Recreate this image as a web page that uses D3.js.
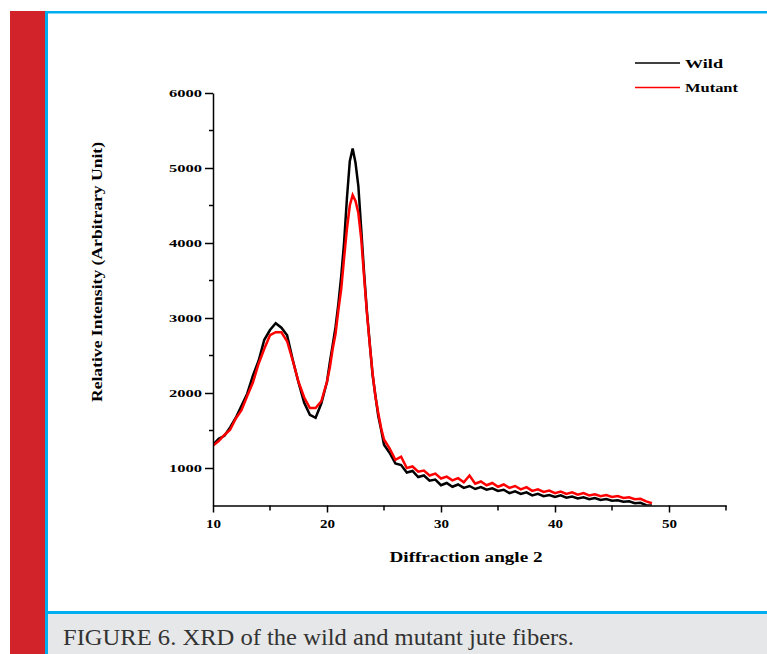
<!DOCTYPE html>
<head>
  <meta charset="UTF-8">
  <title>xrd</title>
  <style>
  body, html, svg{
    padding: 0;
    margin: 0;
  }
  body{
    background: #fff;
  }
  svg{
    display: block;
  }
  </style>
</head>
<body>
  <script src="https://cdnjs.cloudflare.com/ajax/libs/d3/7.8.5/d3.min.js"></script>
  <script type="text/javascript">
  // diffraction angle (2 theta)
  var angle = [
    10,10.5,11,11.5,12,12.5,13,13.5,14,14.5,15,15.5,16,16.5,17,17.5,18,18.5,19,19.5,20,
    20.25,20.5,20.75,21,21.25,21.5,21.75,22,22.25,22.5,22.75,23,23.25,23.5,23.75,24,24.25,24.5,24.75,25,
    25.5,26,26.5,27,27.5,28,28.5,29,29.5,30,30.5,31,31.5,32,32.5,33,33.5,34,34.5,35,
    35.5,36,36.5,37,37.5,38,38.5,39,39.5,40,40.5,41,41.5,42,42.5,43,43.5,44,44.5,45,
    45.5,46,46.5,47,47.5,48,48.5
  ];
  var wild = [
    1310,1390,1430,1540,1670,1830,1990,2230,2430,2710,2840,2930,2870,2770,2440,2140,1870,1710,1670,1860,2150,
    2410,2640,2880,3190,3560,4010,4600,5090,5260,5070,4760,4190,3610,3090,2660,2240,1960,1690,1510,1310,
    1200,1060,1040,940,960,880,900,830,845,770,800,750,780,735,760,720,745,710,730,695,
    710,665,690,655,675,635,655,625,640,615,635,605,620,595,610,585,600,575,585,565,
    570,550,555,530,535,505,500
  ];
  var mutant = [
    1300,1360,1440,1510,1660,1770,1960,2140,2390,2590,2770,2810,2810,2690,2430,2150,1940,1800,1800,1890,2150,
    2340,2590,2790,3110,3390,3800,4190,4500,4640,4560,4400,4060,3560,3070,2650,2260,1950,1730,1530,1380,
    1260,1110,1150,1000,1020,950,965,900,925,860,885,835,865,810,900,790,820,770,800,750,
    780,735,760,715,745,695,715,680,700,665,685,655,675,645,665,635,650,625,640,615,
    625,600,610,585,590,555,530
  ];
  var xTicks = [10, 20, 30, 40, 50];
  var xMinor = [15, 25, 35, 45, 55];
  var yTicks = [1000, 2000, 3000, 4000, 5000, 6000];
  var yMinor = [1500, 2500, 3500, 4500, 5500];
  var seriesNames = ['Wild', 'Mutant'];
  var seriesColors = ['#000', '#ff0000'];

  var width = 767, height = 654;
  var svg = d3.select('body').append('svg')
    .attr('width', width)
    .attr('height', height);

  // page frame
  svg.append('rect').attr('x', 10).attr('y', 11).attr('width', 35).attr('height', 643).attr('fill', '#d2232a');
  svg.append('rect').attr('x', 48).attr('y', 614).attr('width', 719).attr('height', 40).attr('fill', '#e6e7e8');
  svg.append('rect').attr('x', 45).attr('y', 11).attr('width', 722).attr('height', 2.5).attr('fill', '#00aeef');
  svg.append('rect').attr('x', 45).attr('y', 11).attr('width', 3).attr('height', 643).attr('fill', '#00aeef');
  svg.append('rect').attr('x', 45).attr('y', 611).attr('width', 722).attr('height', 3).attr('fill', '#00aeef');
  svg.append('text')
    .attr('x', 63).attr('y', 645)
    .attr('font-family', 'Liberation Serif, serif')
    .attr('font-size', 23)
    .attr('fill', '#333')
    .attr('textLength', 511).attr('lengthAdjust', 'spacingAndGlyphs')
    .text('FIGURE 6. XRD of the wild and mutant jute fibers.');

  // scales
  var x = d3.scaleLinear().domain([10, 55]).range([213, 726]);
  var y = d3.scaleLinear().domain([500, 6000]).range([505.5, 93]);

  svg.append('clipPath').attr('id', 'plot')
    .append('rect').attr('x', 213).attr('y', 80).attr('width', 513).attr('height', 425.5);

  var line = d3.line()
    .x(function(d) { return x(d[0]); })
    .y(function(d) { return y(d[1]); });

  var series = [wild, mutant];
  series.forEach(function(vals, i) {
    svg.append('path')
      .datum(angle.map(function(a, j) { return [a, vals[j]]; }))
      .attr('clip-path', 'url(#plot)')
      .attr('d', line)
      .attr('fill', 'none')
      .attr('stroke', seriesColors[i])
      .attr('stroke-width', 2.5);
  });

  // axes
  var font = 'Liberation Serif, serif';
  var xAxis = svg.append('g')
    .attr('transform', 'translate(0,505.5)')
    .call(d3.axisBottom(x).tickValues(xTicks).tickSize(7).tickSizeOuter(0).tickFormat(d3.format('d')));
  xAxis.append('g').selectAll('line').data(xMinor).enter().append('line')
    .attr('x1', function(d) { return x(d); }).attr('x2', function(d) { return x(d); })
    .attr('y1', 0).attr('y2', 5).attr('stroke', '#000').attr('stroke-width', 1.5);

  var yAxis = svg.append('g')
    .attr('transform', 'translate(213,0)')
    .call(d3.axisLeft(y).tickValues(yTicks).tickSize(8).tickSizeOuter(0).tickFormat(d3.format('d')));
  yAxis.append('g').selectAll('line').data(yMinor).enter().append('line')
    .attr('y1', function(d) { return y(d); }).attr('y2', function(d) { return y(d); })
    .attr('x1', 0).attr('x2', -4).attr('stroke', '#000').attr('stroke-width', 1.5);

  svg.selectAll('.domain, .tick line').attr('stroke', '#000').attr('stroke-width', 1.5);
  xAxis.selectAll('.tick text')
    .attr('font-family', font).attr('font-size', 12).attr('font-weight', 'bold')
    .attr('dy', '1.05em')
    .attr('textLength', 15).attr('lengthAdjust', 'spacingAndGlyphs');
  yAxis.selectAll('.tick text')
    .attr('font-family', font).attr('font-size', 11).attr('font-weight', 'bold')
    .attr('x', -11)
    .attr('textLength', 33).attr('lengthAdjust', 'spacingAndGlyphs');

  svg.append('text')
    .attr('x', 466).attr('y', 562)
    .attr('text-anchor', 'middle')
    .attr('font-family', font).attr('font-size', 14).attr('font-weight', 'bold')
    .attr('textLength', 153).attr('lengthAdjust', 'spacingAndGlyphs')
    .text('Diffraction angle 2');

  svg.append('text')
    .attr('transform', 'translate(102,272) rotate(-90)')
    .attr('text-anchor', 'middle')
    .attr('font-family', font).attr('font-size', 14).attr('font-weight', 'bold')
    .attr('textLength', 260).attr('lengthAdjust', 'spacingAndGlyphs')
    .text('Relative Intensity (Arbitrary Unit)');

  // legend
  var legend = svg.append('g').selectAll('g').data(seriesNames).enter().append('g')
    .attr('transform', function(d, i) { return 'translate(635,' + (63 + i * 24.5) + ')'; });
  legend.append('line')
    .attr('x1', 0).attr('x2', 45).attr('y1', 0).attr('y2', 0)
    .attr('stroke', function(d, i) { return seriesColors[i]; })
    .attr('stroke-width', 1.5);
  legend.append('text')
    .attr('x', 50).attr('y', 4.5)
    .attr('font-family', font).attr('font-size', 13).attr('font-weight', 'bold')
    .attr('textLength', function(d) { return d === 'Wild' ? 38 : 53; })
    .attr('lengthAdjust', 'spacingAndGlyphs')
    .text(function(d) { return d; });
  </script>
</body>
</html>
